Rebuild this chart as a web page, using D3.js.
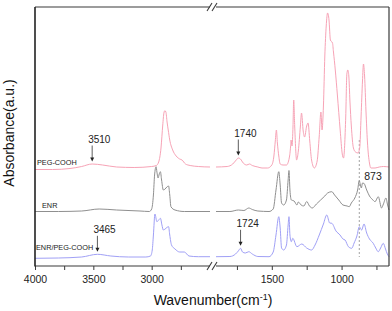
<!DOCTYPE html>
<html><head><meta charset="utf-8">
<script src="https://cdn.jsdelivr.net/npm/d3@7/dist/d3.min.js"></script>
<style>
body{margin:0;background:#fff}
svg{display:block;font-family:Arial,"Liberation Sans",sans-serif}
</style>
</head><body>
<svg id="chart" width="392" height="311"></svg>
<script>
// ---- data (wavenumber cm-1, absorbance a.u., stacked offsets included) ----
const highRange = [4000, 2500];
const lowRange = [1900, 660];

const pegHigh = [[4000,96.5],[3850,96.5],[3700,97.5],[3600,99.5],[3510,102],[3420,101],[3300,99],[3150,98.5],[3000,99.5],[2960,100.5],[2940,104],[2920,118],[2905,141],[2895,153],[2887,155.3],[2878,154],[2868,144],[2858,136],[2845,126],[2820,116],[2790,110],[2760,107],[2740,106],[2710,102],[2670,100.5],[2600,99.5],[2500,99]];
const pegLow = [[1900,99],[1820,99.5],[1780,102],[1755,106],[1740,108],[1725,107],[1705,103],[1680,101],[1660,102],[1640,100.5],[1600,99],[1570,98],[1530,98],[1500,101],[1485,110],[1475,125],[1467,136],[1460,123],[1450,110],[1440,102],[1420,101],[1395,101],[1375,108],[1365,120],[1362,126],[1355,120],[1348,140],[1343,166],[1336,140],[1322,106],[1310,115],[1295,140],[1287,153],[1275,135],[1265,129],[1250,140],[1240,143],[1228,125],[1215,106],[1195,98],[1175,105],[1160,130],[1148,154],[1140,136],[1130,160],[1120,210],[1110,240],[1100,253],[1090,246],[1080,226],[1065,223],[1058,214],[1045,196],[1030,171],[1010,136],[995,112],[986,108],[970,150],[962,192],[955,196],[948,190],[940,165],[930,140],[915,118],[900,114],[882,113],[870,118],[860,150],[850,185],[843,202],[835,190],[825,155],[815,125],[800,103],[790,98],[760,98],[730,99],[700,99.5],[660,99]];

const enrHigh = [[4000,54.5],[3800,54.5],[3600,55],[3450,57],[3300,56],[3100,55],[3020,54.5],[3000,57],[2985,71],[2975,91],[2962,99.3],[2955,94],[2945,88],[2935,92],[2925,94.3],[2915,86],[2900,76],[2885,77],[2870,79],[2855,80],[2845,71],[2835,59.3],[2800,56],[2720,54.5],[2500,54.5]];
const enrLow = [[1900,54.5],[1800,54.5],[1740,56],[1700,55.5],[1665,58],[1640,56.5],[1600,55],[1520,54.5],[1490,57],[1470,76],[1450,94.3],[1440,81],[1430,63],[1415,61],[1395,66],[1383,86],[1377,95.5],[1370,76],[1360,66],[1340,65],[1320,61],[1310,64],[1290,61],[1270,60],[1250,64.5],[1230,60],[1210,58],[1180,62],[1150,66],[1120,70],[1100,73],[1070,74.3],[1050,71],[1020,66],[990,61],[960,60],[945,59.3],[930,63],[905,68],[885,76],[873,85.3],[865,81],[858,78],[850,83],[840,82.7],[820,76],[800,70],[775,66],[760,64.3],[737,69.3],[713,58],[700,62],[682,68],[670,61],[660,56]];

const blendHigh = [[4000,7.7],[3800,8],[3600,9],[3465,11.7],[3350,10],[3200,9],[3050,9],[3010,10],[2995,16],[2985,31],[2972,52],[2955,44.3],[2940,46],[2925,47.7],[2912,41],[2900,36],[2885,37],[2870,38.5],[2855,39.3],[2845,31],[2830,21],[2800,17],[2760,14],[2720,14],[2680,10],[2600,9.3],[2500,9.3]];
const blendLow = [[1900,9.3],[1800,9.5],[1760,12],[1740,15],[1724,17.7],[1710,14],[1690,13],[1665,14.3],[1640,12],[1600,9.5],[1520,9.3],[1490,14],[1470,31],[1450,49.3],[1440,38],[1430,18],[1415,16],[1395,21],[1383,41],[1377,49.3],[1370,31],[1360,24.3],[1350,27.7],[1320,19.3],[1285,22],[1250,18],[1215,16],[1190,21],[1160,31],[1130,42],[1106,51],[1085,43],[1070,42.7],[1040,35],[1011,31],[990,27],[975,26],[951,19.3],[927,17.7],[910,23],[890,30],[873,39.3],[856,36],[839,42],[820,33],[800,27],[773,22.7],[755,18],[737,14.3],[720,18],[701,22.7],[685,17],[672,12],[660,9.3]];

const seriesNames = ["PEG-COOH", "ENR", "ENR/PEG-COOH"];
const seriesColors = ["#f7a3b6", "#8f8f8f", "#a0a0f6"];
const highTicks = [4000, 3750, 3500, 3250, 3000, 2750];
const highLabels = [4000, 3500, 3000];
const lowTicks = [1750, 1500, 1250, 1000, 750];
const lowLabels = [1500, 1000];
const peakWn = [3510, 1740, 3465, 1724];
const peakLabels = ["3510", "1740", "3465", "1724"];
const markerWn = 873;

// ---- layout ----
const svg = d3.select("#chart");
const mLeft = 35, mRight = 389, mTop = 7, mBottom = 266, breakL = 210, breakR = 216;
const xH = d3.scaleLinear().domain(highRange).range([mLeft, breakL]);
const xLo = d3.scaleLinear().domain(lowRange).range([breakR, mRight]);
const y = d3.scaleLinear().domain([0, 259]).range([mBottom, mTop]);

const axisColor = "#3a3a3a";

// series
const lineH = d3.line().x(d => xH(d[0])).y(d => y(d[1])).curve(d3.curveMonotoneX);
const lineL = d3.line().x(d => xLo(d[0])).y(d => y(d[1])).curve(d3.curveMonotoneX);
const highs = [pegHigh, enrHigh, blendHigh];
const lows = [pegLow, enrLow, blendLow];

// dashed marker at 873
svg.append("line")
  .attr("x1", xLo(markerWn)).attr("x2", xLo(markerWn))
  .attr("y1", 140).attr("y2", 257)
  .attr("stroke", "#8a8a8a").attr("stroke-width", 0.8).attr("stroke-dasharray", "2,2");

[2, 1, 0].forEach(i => {
  svg.append("path").datum(highs[i]).attr("d", lineH)
    .attr("fill", "none").attr("stroke", seriesColors[i]).attr("stroke-width", 1);
  svg.append("path").datum(lows[i]).attr("d", lineL)
    .attr("fill", "none").attr("stroke", seriesColors[i]).attr("stroke-width", 1);
});

// axes
const axH = d3.axisBottom(xH).tickValues(highTicks).tickSize(4).tickPadding(6).tickSizeOuter(0)
  .tickFormat(d => highLabels.includes(d) ? d : "");
const axL = d3.axisBottom(xLo).tickValues(lowTicks).tickSize(4).tickPadding(6).tickSizeOuter(0)
  .tickFormat(d => lowLabels.includes(d) ? d : "");
[axH, axL].forEach(ax => {
  const g = svg.append("g").attr("transform", `translate(0,${mBottom})`).call(ax);
  g.select(".domain").remove();
  g.selectAll(".tick line").attr("stroke", axisColor).attr("stroke-width", 1);
  g.selectAll(".tick text").attr("font-size", "10.5px").attr("fill", "#222")
    .attr("font-family", "Arial, 'Liberation Sans', sans-serif");
});

// frame
const frame = [
  [mLeft, mBottom, breakL, mBottom], [breakR, mBottom, mRight, mBottom],
  [mLeft, mTop, breakL, mTop], [breakR, mTop, mRight, mTop],
  [mRight, mTop, mRight, mBottom]
];
frame.forEach(f => svg.append("line").attr("x1", f[0]).attr("y1", f[1]).attr("x2", f[2]).attr("y2", f[3])
  .attr("stroke", axisColor).attr("stroke-width", 1.2));
svg.append("line").attr("x1", mLeft).attr("y1", mTop).attr("x2", mLeft).attr("y2", mBottom + 0.6)
  .attr("stroke", "#222").attr("stroke-width", 1.6);

// break marks
[mTop, mBottom].forEach(yy => {
  [207, 212].forEach(x0 => svg.append("line")
    .attr("x1", x0).attr("y1", yy + 4).attr("x2", x0 + 5).attr("y2", yy - 4)
    .attr("stroke", axisColor).attr("stroke-width", 1.1));
});

// axis titles
const xt = svg.append("text").attr("x", 213).attr("y", 305).attr("text-anchor", "middle")
  .attr("font-size", "14px").attr("fill", "#111");
xt.append("tspan").text("Wavenumber(cm");
xt.append("tspan").attr("font-size", "9px").attr("dy", -5).text("-1");
xt.append("tspan").attr("dy", 5).text(")");

svg.append("text").attr("transform", "translate(13.5,133) rotate(-90)")
  .attr("text-anchor", "middle").attr("font-size", "14px").attr("fill", "#111")
  .text("Absorbance(a.u.)");

// series labels
const labelPos = [[37, 165], [42, 208], [36, 250]];
seriesNames.forEach((n, i) => svg.append("text").attr("x", labelPos[i][0]).attr("y", labelPos[i][1])
  .attr("font-size", "7.3px").attr("fill", "#222").text(n));

// peak annotations with arrows
const peakSeries = [pegHigh, pegLow, blendHigh, blendLow];
const peakScale = [xH, xLo, xH, xLo];
peakWn.forEach((wn, i) => {
  const sx = peakScale[i](wn);
  const pt = peakSeries[i].find(d => d[0] === wn) || peakSeries[i][0];
  const tip = y(pt[1]) - 2.5;
  const textBase = tip - 19;
  svg.append("text").attr("x", sx - 4).attr("y", textBase).attr("font-size", "10px").attr("fill", "#222")
    .text(peakLabels[i]);
  svg.append("line").attr("x1", sx).attr("x2", sx).attr("y1", textBase + 3).attr("y2", tip - 3)
    .attr("stroke", "#333").attr("stroke-width", 0.8);
  svg.append("path").attr("d", `M${sx - 2},${tip - 4}L${sx + 2},${tip - 4}L${sx},${tip}Z`).attr("fill", "#222");
});

svg.append("text").attr("x", xLo(markerWn) + 5).attr("y", 180).attr("font-size", "10.5px").attr("fill", "#222").text("873");
</script>
</body></html>
